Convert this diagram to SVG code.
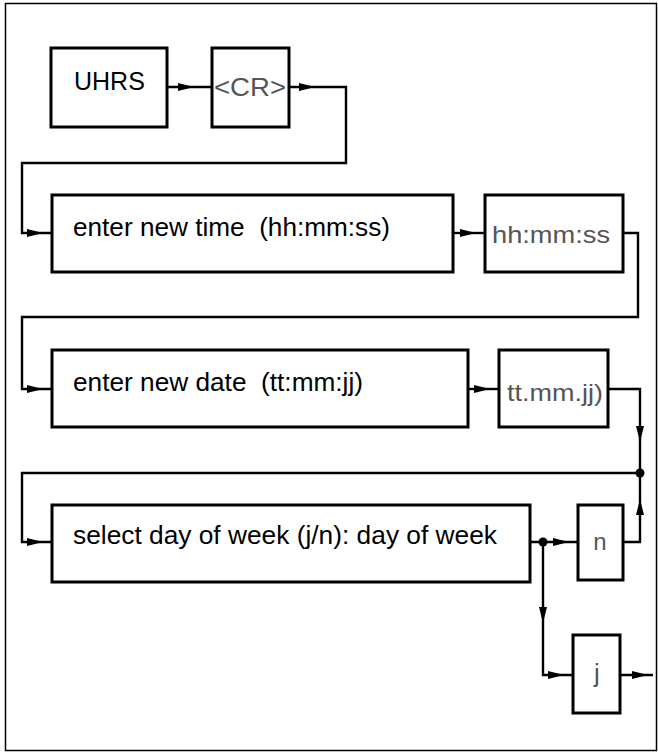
<svg xmlns="http://www.w3.org/2000/svg" width="658" height="753" viewBox="0 0 658 753">
<style>
.box{fill:#fff;stroke:#000;stroke-width:3}
.ln{fill:none;stroke:#000;stroke-width:2.4}
.t{font-family:"Liberation Sans",Arial,sans-serif;font-size:26px;fill:#000;white-space:pre}
.g{font-family:"Liberation Sans",Arial,sans-serif;font-size:24px;fill:#555;white-space:pre}
.ah{fill:#000}
</style>
<defs>
<path id="ar" d="M-8,-4 L8,0 L-8,4 Z"/>
</defs>
<rect x="5.5" y="3.5" width="651" height="747" fill="none" stroke="#000" stroke-width="1.5"/>
<g id="connectors">
<path class="ln" d="M167,87 H212"/>
<path class="ln" d="M289,87 H346 V163 H22 V233 H52"/>
<path class="ln" d="M453,233 H485"/>
<path class="ln" d="M623,233 H638 V317 H22 V389 H52"/>
<path class="ln" d="M468,389 H499"/>
<path class="ln" d="M608,389 H640 V473"/>
<path class="ln" d="M640,473 H22 V542 H52"/>
<path class="ln" d="M530,542 H578"/>
<path class="ln" d="M623,542 H640 V473"/>
<path class="ln" d="M543,542 V675 H573"/>
<path class="ln" d="M620,675 H653"/>
<use href="#ar" class="ah" x="186" y="87"/>
<use href="#ar" class="ah" x="307" y="87"/>
<use href="#ar" class="ah" x="35" y="233"/>
<use href="#ar" class="ah" x="468" y="233"/>
<use href="#ar" class="ah" x="35" y="389"/>
<use href="#ar" class="ah" x="482" y="389"/>
<use href="#ar" class="ah" transform="translate(640,434) rotate(90)"/>
<use href="#ar" class="ah" transform="translate(640,507) rotate(-90)"/>
<use href="#ar" class="ah" x="35" y="542"/>
<use href="#ar" class="ah" x="561" y="542"/>
<use href="#ar" class="ah" transform="translate(543,615) rotate(90)"/>
<use href="#ar" class="ah" x="556" y="675"/>
<use href="#ar" class="ah" x="640" y="675"/>
<circle cx="640" cy="473" r="4.5"/>
<circle cx="543" cy="542" r="4.5"/>
</g>
<g id="uhrs"><rect class="box" x="51" y="48" width="116" height="79"/><text class="t" x="74" y="90" style="font-size:25px">UHRS</text></g>
<g id="cr"><rect class="box" x="212" y="48" width="77" height="79"/><text class="g" x="214" y="96" textLength="72" lengthAdjust="spacingAndGlyphs" style="font-size:26px">&lt;CR&gt;</text></g>
<g id="time"><rect class="box" x="52" y="195" width="401" height="77"/><text class="t" x="73" y="236" textLength="317" lengthAdjust="spacingAndGlyphs">enter new time  (hh:mm:ss)</text></g>
<g id="hhmmss"><rect class="box" x="485" y="195" width="138" height="77"/><text class="g" x="492" y="243" textLength="118" lengthAdjust="spacingAndGlyphs">hh:mm:ss</text></g>
<g id="date"><rect class="box" x="52" y="350" width="416" height="77"/><text class="t" x="73" y="391" textLength="290" lengthAdjust="spacingAndGlyphs">enter new date  (tt:mm:jj)</text></g>
<g id="ttmmjj"><rect class="box" x="499" y="350" width="109" height="77"/><text class="g" x="507" y="401" textLength="96" lengthAdjust="spacingAndGlyphs">tt.mm.jj)</text></g>
<g id="select"><rect class="box" x="52" y="505" width="478" height="77"/><text class="t" x="73" y="544" textLength="424" lengthAdjust="spacingAndGlyphs">select day of week (j/n): day of week</text></g>
<g id="n"><rect class="box" x="578" y="505" width="45" height="75"/><text class="g" x="600" y="550" text-anchor="middle">n</text></g>
<g id="j"><rect class="box" x="573" y="635" width="47" height="78"/><text class="g" x="597" y="682" text-anchor="middle" style="font-size:26px">j</text></g>
</svg>
